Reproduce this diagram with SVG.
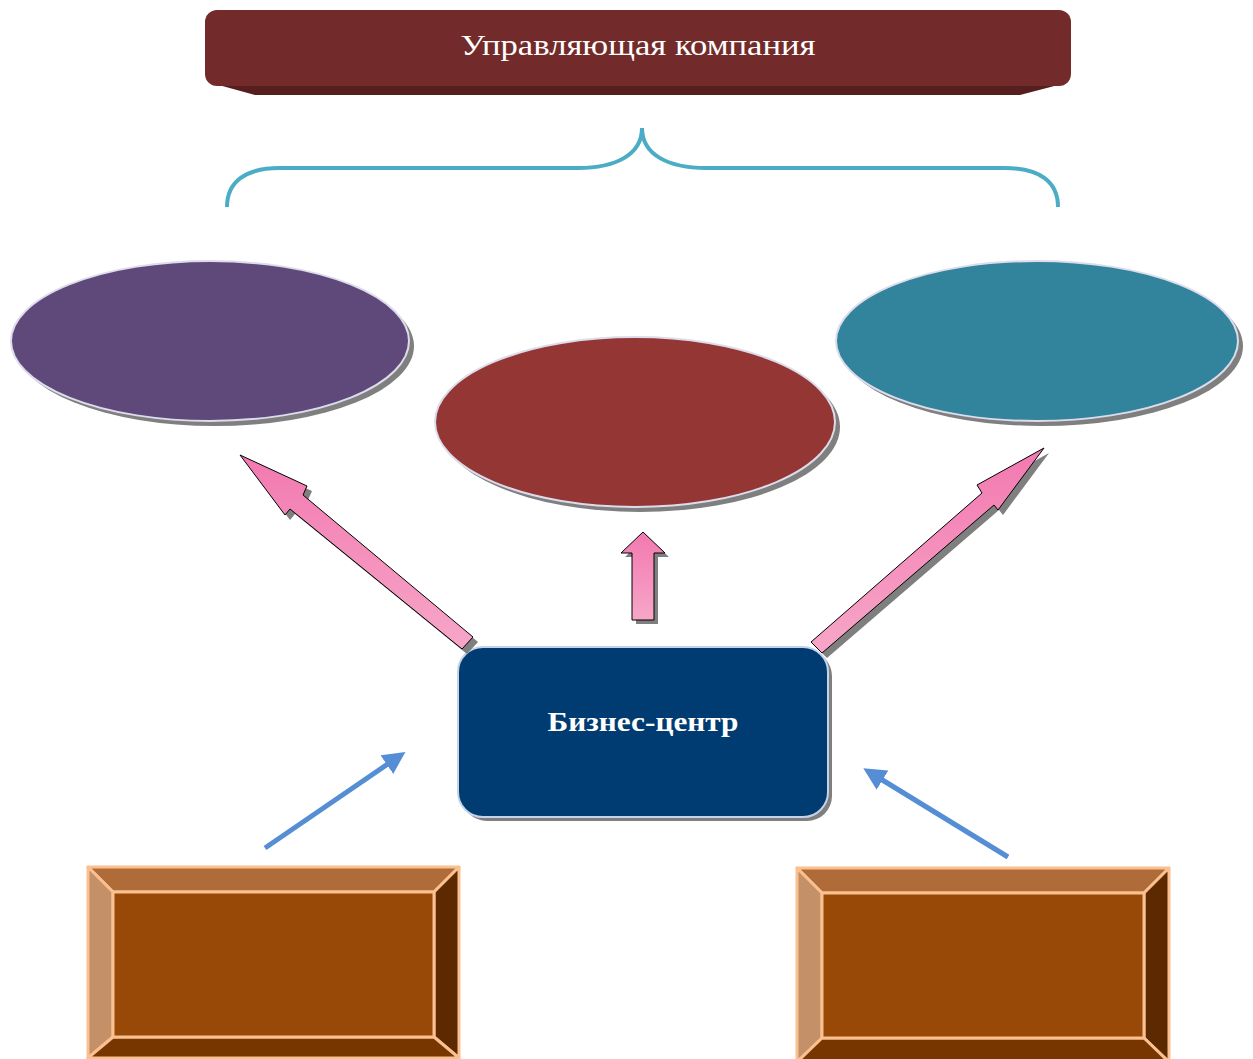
<svg xmlns="http://www.w3.org/2000/svg" width="1253" height="1059" viewBox="0 0 1253 1059">
<defs>
<style>
.sh{fill:#7f7f7f}
.ell{stroke:#dcdcec;stroke-width:2}
.pink{fill:url(#pg);stroke:#000;stroke-width:1}
.blue{stroke:#558ed5;stroke-width:5;fill:none;marker-end:url(#bh)}
.bev{stroke:#fac090;stroke-width:3;stroke-linejoin:round}
.t{font-family:"Liberation Serif","DejaVu Serif",serif;fill:#fff;text-anchor:middle}
</style>
<linearGradient id="pg" x1="0" y1="0" x2="0" y2="1">
<stop offset="0" stop-color="#f279b0"/>
<stop offset="1" stop-color="#f7a6c8"/>
</linearGradient>
<marker id="bh" viewBox="0 0 10 10" refX="6" refY="5" markerWidth="4.5" markerHeight="4.5" orient="auto" markerUnits="strokeWidth">
<path d="M0,0 L10,5 L0,10 z" fill="#558ed5"/>
</marker>
</defs>
<rect width="1253" height="1059" fill="#fff"/>

<g id="company">
<path d="M215,84 L1062,84 L1020,95 L255,95 Z" fill="#561f1e"/>
<rect x="205" y="10" width="866" height="76" rx="12" fill="#722b2a"/>
<text class="t" x="638" y="55" font-size="30" textLength="355" lengthAdjust="spacingAndGlyphs">Управляющая компания</text>
</g>

<g id="brace">
<path d="M227,207 C227,182 245,168 280,168 L578,168 C615,168 642,155 642,128 C642,155 669,168 706,168 L1005,168 C1040,168 1058,182 1058,207" fill="none" stroke="#4bacc6" stroke-width="4"/>
</g>

<g id="ellipse-left">
<ellipse class="sh" cx="215" cy="346" rx="199" ry="80"/>
<ellipse class="ell" cx="210" cy="341" rx="199" ry="80" fill="#5f497a"/>
</g>
<g id="ellipse-mid">
<ellipse class="sh" cx="640" cy="427" rx="200" ry="85"/>
<ellipse class="ell" cx="635" cy="422" rx="200" ry="85" fill="#943634"/>
</g>
<g id="ellipse-right">
<ellipse class="sh" cx="1042" cy="346" rx="201" ry="80"/>
<ellipse class="ell" cx="1037" cy="341" rx="201" ry="80" fill="#31849b"/>
</g>

<g id="business-center">
<rect x="462" y="651" width="370" height="170" rx="25" class="sh"/>
<rect x="458" y="647" width="370" height="170" rx="25" fill="#003c71" stroke="#c5d3e8" stroke-width="2"/>
<text class="t" x="643" y="731" font-size="28" font-weight="bold" textLength="191" lengthAdjust="spacingAndGlyphs">Бизнес-центр</text>
</g>

<g id="box-left">
<polygon class="bev" points="88,867 459,867 434,892 113,892" fill="#b06c38"/>
<polygon class="bev" points="88,867 113,892 113,1037 88,1058" fill="#c39068"/>
<polygon class="bev" points="459,867 459,1058 434,1037 434,892" fill="#5c2900"/>
<polygon class="bev" points="88,1058 113,1037 434,1037 459,1058" fill="#773600"/>
<rect class="bev" x="113" y="892" width="321" height="145" fill="#984807"/>
</g>

<g id="box-right">
<polygon class="bev" points="797,868 1169,868 1144,893 822,893" fill="#b06c38"/>
<polygon class="bev" points="797,868 822,893 822,1038 797,1062" fill="#c39068"/>
<polygon class="bev" points="1169,868 1169,1062 1144,1038 1144,893" fill="#5c2900"/>
<polygon class="bev" points="797,1062 822,1038 1144,1038 1169,1062" fill="#773600"/>
<rect class="bev" x="822" y="893" width="322" height="145" fill="#984807"/>
</g>

<g id="connectors">
<polygon class="sh" points="245,460 312,491 308,500 478,642 467,654 295,514 290,520"/>
<polygon class="pink" points="240,455 307,486 303,495 473,637 462,649 290,509 285,515"/>
<polygon class="sh" points="647,536 669,557 658,557 658,624 636,624 636,557 625,557"/>
<polygon class="pink" points="643,532 665,553 654,553 654,620 632,620 632,553 621,553"/>
<polygon class="sh" points="1049,453 982,490 987,498 816,647 827,658 999,510 1003,515"/>
<polygon class="pink" points="1044,448 977,485 982,493 811,642 822,653 994,505 998,510"/>
<line class="blue" x1="265" y1="848" x2="398" y2="757"/>
<line class="blue" x1="1008" y1="857" x2="871" y2="773"/>
</g>
</svg>
